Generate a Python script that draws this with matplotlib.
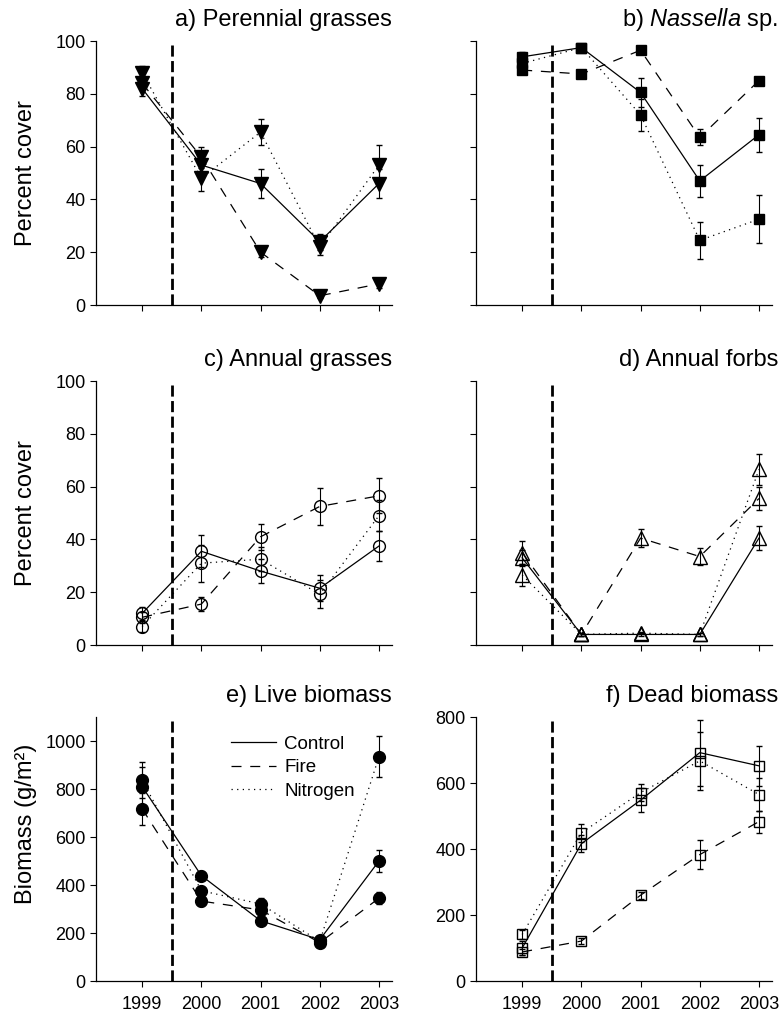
import matplotlib
matplotlib.use("Agg")
import matplotlib.pyplot as plt

plt.rcParams['font.family'] = ['Liberation Sans', 'DejaVu Sans']
plt.rcParams['mathtext.fontset'] = 'custom'
plt.rcParams['mathtext.rm'] = 'Liberation Sans'
plt.rcParams['mathtext.it'] = 'Liberation Sans:italic'

years = [1999, 2000, 2001, 2002, 2003]
treatments = ["Control", "Fire", "Nitrogen"]

# a) perennial grasses (% cover)
a_ctrl = [82, 53, 46, 24, 46]
a_ctrl_err = [3, 4, 5.5, 3, 5.5]
a_fire = [84, 56, 20, 3.5, 8]
a_fire_err = [2, 4, 2, 1, 1.5]
a_nitro = [88, 48, 65.5, 22, 53]
a_nitro_err = [2.5, 5, 5, 3, 7.5]

# b) Nassella sp.
b_ctrl = [94, 97.5, 80.5, 47, 64.5]
b_ctrl_err = [2, 1, 5.5, 6, 6.5]
b_fire = [89, 87.5, 96.5, 63.5, 85]
b_fire_err = [1.5, 1.5, 1, 3, 1.5]
b_nitro = [91.5, 97.5, 72, 24.5, 32.5]
b_nitro_err = [2, 1, 6, 7, 9]

# c) annual grasses
c_ctrl = [12, 35.5, 28, 21.5, 37.5]
c_ctrl_err = [2.5, 6, 4.7, 5, 5.7]
c_fire = [10.5, 15.5, 41, 52.5, 56.5]
c_fire_err = [2, 2.7, 5, 7, 6.6]
c_nitro = [7, 31, 32.5, 19.2, 49]
c_nitro_err = [2, 7, 4.5, 5.3, 6]

# d) annual forbs
d_ctrl = [33, 4, 4, 4, 40.5]
d_ctrl_err = [3, 0.5, 0.5, 0.5, 4.7]
d_fire = [35, 4, 40.5, 33.5, 55.5]
d_fire_err = [4.5, 0.5, 3.3, 3.3, 4.5]
d_nitro = [26.5, 4, 4.5, 4, 66.5]
d_nitro_err = [4.3, 0.5, 0.5, 0.5, 6]

# e) live biomass (g/m2)
e_ctrl = [810, 439, 251, 172, 500]
e_ctrl_err = [80, 20, 15, 15, 45]
e_fire = [717, 333, 296, 160, 345]
e_fire_err = [65, 20, 20, 10, 25]
e_nitro = [837, 376, 321, 165, 935]
e_nitro_err = [75, 20, 25, 10, 86]

# f) dead biomass (g/m2)
f_ctrl = [100, 416, 548, 692, 652]
f_ctrl_err = [20, 25, 36, 100, 60]
f_fire = [88, 121, 260, 383, 483]
f_fire_err = [10, 8, 10, 45, 33]
f_nitro = [141, 449, 571, 667, 565]
f_nitro_err = [15, 28, 27, 89, 50]

styles = ['-', (0, (8, 7)), (0, (1, 3.5))]

panels = [
    ("a) Perennial grasses", [a_ctrl, a_fire, a_nitro], [a_ctrl_err, a_fire_err, a_nitro_err],
     dict(marker='v', ms=10, mfc='black'), (0, 100), range(0, 101, 20)),
    ("b) $\\it{Nassella}$ sp.", [b_ctrl, b_fire, b_nitro], [b_ctrl_err, b_fire_err, b_nitro_err],
     dict(marker='s', ms=7, mfc='black'), (0, 100), range(0, 101, 20)),
    ("c) Annual grasses", [c_ctrl, c_fire, c_nitro], [c_ctrl_err, c_fire_err, c_nitro_err],
     dict(marker='o', ms=8.5, mfc='none'), (0, 100), range(0, 101, 20)),
    ("d) Annual forbs", [d_ctrl, d_fire, d_nitro], [d_ctrl_err, d_fire_err, d_nitro_err],
     dict(marker='^', ms=9.5, mfc='none'), (0, 100), range(0, 101, 20)),
    ("e) Live biomass", [e_ctrl, e_fire, e_nitro], [e_ctrl_err, e_fire_err, e_nitro_err],
     dict(marker='o', ms=8.5, mfc='black'), (0, 1100), range(0, 1001, 200)),
    ("f) Dead biomass", [f_ctrl, f_fire, f_nitro], [f_ctrl_err, f_fire_err, f_nitro_err],
     dict(marker='s', ms=6.5, mfc='none'), (0, 800), range(0, 801, 200)),
]

fig = plt.figure(figsize=(7.81, 10.14), dpi=100)
W, H = 781.0, 1014.0
lefts = [96, 476]
tops = [41, 381, 717]
aw, ah = 296, 264

for i, (title, series, errs, mk, ylim, yticks) in enumerate(panels):
    row, col = divmod(i, 2)
    ax = fig.add_axes([lefts[col] / W, 1 - (tops[row] + ah) / H, aw / W, ah / H])
    for vals, err, ls, lab in zip(series, errs, styles, treatments):
        ax.errorbar(years, vals, yerr=err, color='black', ls=ls, lw=0.9,
                    mec='black', mew=1.0, elinewidth=0.8, capsize=2.5, capthick=0.8,
                    label=lab, **mk)
    ax.axvline(1999.5, color='black', lw=2.0, ls=(0, (4, 1.6)))
    ax.set_xlim(1998.22, 2003.22)
    ax.set_ylim(*ylim)
    ax.set_xticks(years)
    ax.set_yticks(list(yticks))
    ax.spines['top'].set_visible(False)
    ax.spines['right'].set_visible(False)
    for s in ('left', 'bottom'):
        ax.spines[s].set_linewidth(0.9)
    ax.tick_params(direction='out', length=4.5, width=0.8, labelsize=13, pad=3)
    if row < 2:
        ax.set_xticklabels([])
    else:
        ax.tick_params(axis='x', pad=6)
    if col == 1 and row < 2:
        ax.set_yticklabels([])
    ax.text(1.0 if col == 0 else 1.02, 1 + 15 / ah, title, transform=ax.transAxes,
            ha='right', va='baseline', fontsize=17)
    if col == 0:
        if row < 2:
            ax.set_ylabel("Percent cover", fontsize=17)
            ax.yaxis.set_label_coords(-0.20, 0.5)
        else:
            ax.set_ylabel("Biomass (g/m²)", fontsize=17)
            ax.yaxis.set_label_coords(-0.20, 0.595)
    if i == 4:
        handles = [plt.Line2D([], [], color='black', lw=0.9, ls=ls) for ls in styles]
        ax.legend(handles, treatments, loc='upper left', bbox_to_anchor=(0.455, 0.93),
                  frameon=False, fontsize=13.5, handlelength=2.4, handletextpad=0.45,
                  labelspacing=0.35, borderpad=0, borderaxespad=0)

fig.savefig("out.png", dpi=100)
